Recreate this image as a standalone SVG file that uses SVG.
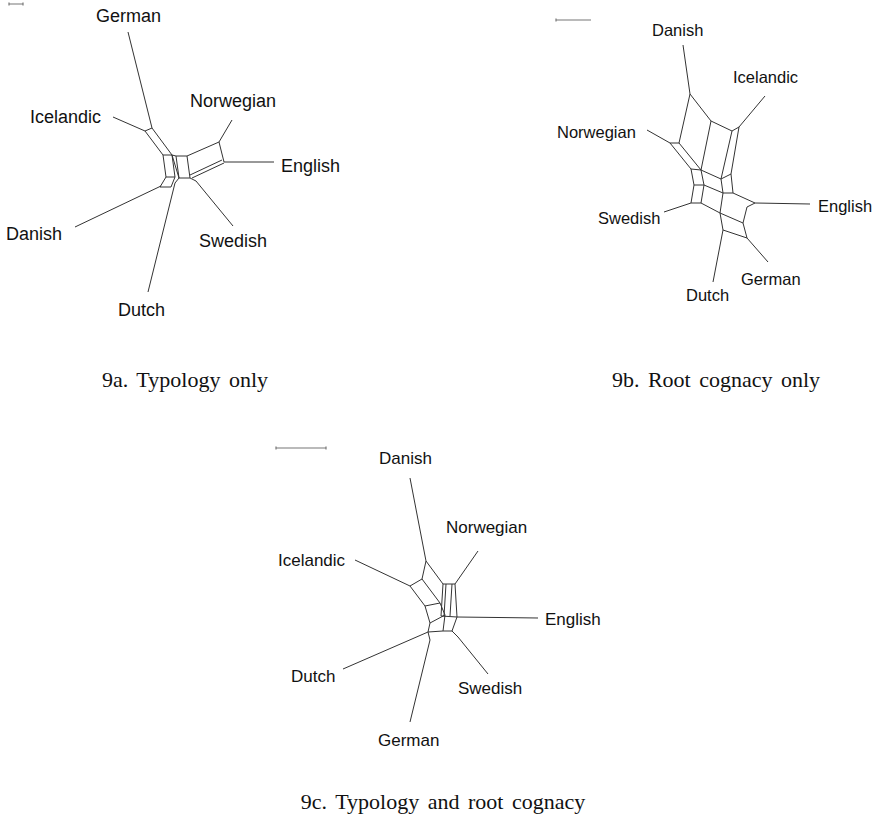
<svg xmlns="http://www.w3.org/2000/svg" width="874" height="818" viewBox="0 0 874 818">
<style>
.e{stroke:#333;stroke-width:1;fill:none;stroke-linejoin:round}
.s{stroke:#777;stroke-width:1.2;fill:none}
.lbl{font-family:"Liberation Sans",Arial,sans-serif;fill:#111}
.a{font-size:18px}
.b{font-size:16.5px}
.c{font-size:17px}
.cap{font-family:"Liberation Serif","Times New Roman",serif;font-size:22px;fill:#111;text-anchor:middle;word-spacing:3px}
</style>
<rect width="874" height="818" fill="#fff"/>
<g id="scalebars">
<path class="s" d="M9 4H23M9 2.5V5.5M23 2.5V5.5"/>
<path class="s" d="M556 20H591M556 18.5V21.5"/>
<path class="s" d="M276 448H326M276 446.5V449.5M326 446.5V449.5"/>
</g>
<g id="connectors">
<g id="net9a">
<path class="e" d="M128 32L152 128M113 117L145 131M232 120L219 142M224 162L274 162M75 227L161 186M233 226L196 181M148 292L175 183"/>
<path class="e" d="M145 131L152 128M145 131L163 155M152 128L172 155M163 155L172 155M163 155L166 177M172 155L175 177M166 177L175 177M172 155L176 156"/>
<path class="e" d="M176 156L187 156L190 178L179 178ZM172 155L179 178"/>
<path class="e" d="M187 156L219 142L224 162M222 160L190 175M224 163L192 178"/>
<path class="e" d="M166 177L160 187M175 177L171 187M160 187L171 187M179 178L175 183M190 178L196 181"/>
</g>
<g id="net9b">
<path class="e" d="M683 45L690 94M765 96L739 127M647 130L670 143M755 203L810 204M664 212L691 203M747 238L768 262M713 282L723 230"/>
<path class="e" d="M690 94L711 121L732 131L739 127M690 94L679 143M670 143L679 143M670 143L691 169M679 143L701 170M711 121L701 170M732 131L721 179M739 127L731 174"/>
<path class="e" d="M691 169L701 170L721 179L731 174M691 169L694 185M701 170L704 185M694 185L704 185M694 185L691 203M704 185L701 203M691 203L701 203"/>
<path class="e" d="M704 185L723 193L733 193L755 203M721 179L723 193M731 174L733 193M701 203L720 213L743 223L747 207L755 203M723 193L720 213M720 213L723 230L747 238L743 223"/>
</g>
<g id="net9c">
<path class="e" d="M410 478L426 561M355 560L410 586M478 551L455 584M538 618L457 617M343 669L428 632M488 674L458 637M410 722L430 640"/>
<path class="e" d="M426 561L422 579M426 561L443 584M422 579L410 586M422 579L440 603M410 586L425 606L440 603M443 584L455 584"/>
<path class="e" d="M443 584L441 616M446 584L444 616M452 584L450 616M455 584L457 617M440 603L445 615M425 606L430 623L445 615M441 616L457 617"/>
<path class="e" d="M430 623L428 632L443 631L452 631L457 617M445 615L443 631M452 631L458 637M428 632L430 640"/>
</g>
</g>
<g id="labels9a" class="lbl a">
<text x="96" y="22">German</text>
<text x="30" y="123">Icelandic</text>
<text x="190" y="107">Norwegian</text>
<text x="281" y="172">English</text>
<text x="6" y="240">Danish</text>
<text x="199" y="247">Swedish</text>
<text x="118" y="316">Dutch</text>
</g>
<g id="labels9b" class="lbl b">
<text x="652" y="36">Danish</text>
<text x="733" y="83">Icelandic</text>
<text x="557" y="138">Norwegian</text>
<text x="818" y="212">English</text>
<text x="598" y="224">Swedish</text>
<text x="741" y="285">German</text>
<text x="686" y="301">Dutch</text>
</g>
<g id="labels9c" class="lbl c">
<text x="379" y="464">Danish</text>
<text x="446" y="533">Norwegian</text>
<text x="278" y="566">Icelandic</text>
<text x="545" y="625">English</text>
<text x="291" y="682">Dutch</text>
<text x="458" y="694">Swedish</text>
<text x="378" y="746">German</text>
</g>
<g id="captions">
<text class="cap" x="185" y="387">9a. Typology only</text>
<text class="cap" x="716" y="387">9b. Root cognacy only</text>
<text class="cap" x="443" y="809">9c. Typology and root cognacy</text>
</g>
</svg>
